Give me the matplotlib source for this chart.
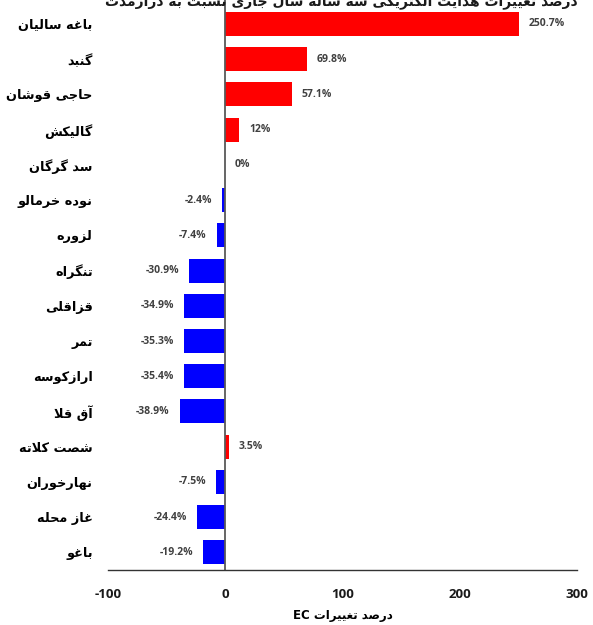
import matplotlib
matplotlib.use("Agg")
import matplotlib.pyplot as plt

stations = ["باغه سالیان", "گنبد", "حاجی قوشان", "گالیکش", "سد گرگان",
            "نوده خرمالو", "لزوره", "تنگراه", "قزاقلی", "تمر", "ارازکوسه",
            "آق قلا", "شصت کلاته", "نهارخوران", "غاز محله", "باغو"]
ec_change = [250.7, 69.8, 57.1, 12, 0, -2.4, -7.4, -30.9, -34.9, -35.3,
             -35.4, -38.9, 3.5, -7.5, -24.4, -19.2]
x_ticks = [-100, 0, 100, 200, 300]
title = "درصد تغییرات هدایت الکتریکی سه ساله سال جاری نسبت به درازمدت"
x_title = "درصد تغییرات"

# matplotlib has no arabic shaping, so map letters to presentation forms
# (isolated, final, initial, medial); None = does not join to the next letter
FORMS = {
    'ا': ('\uFE8D', '\uFE8E', None, None),
    'آ': ('\uFE81', '\uFE82', None, None),
    'ب': ('\uFE8F', '\uFE90', '\uFE91', '\uFE92'),
    'ت': ('\uFE95', '\uFE96', '\uFE97', '\uFE98'),
    'ج': ('\uFE9D', '\uFE9E', '\uFE9F', '\uFEA0'),
    'ح': ('\uFEA1', '\uFEA2', '\uFEA3', '\uFEA4'),
    'خ': ('\uFEA5', '\uFEA6', '\uFEA7', '\uFEA8'),
    'د': ('\uFEA9', '\uFEAA', None, None),
    'ر': ('\uFEAD', '\uFEAE', None, None),
    'ز': ('\uFEAF', '\uFEB0', None, None),
    'س': ('\uFEB1', '\uFEB2', '\uFEB3', '\uFEB4'),
    'ش': ('\uFEB5', '\uFEB6', '\uFEB7', '\uFEB8'),
    'ص': ('\uFEB9', '\uFEBA', '\uFEBB', '\uFEBC'),
    'ط': ('\uFEC1', '\uFEC2', '\uFEC3', '\uFEC4'),
    'ع': ('\uFEC9', '\uFECA', '\uFECB', '\uFECC'),
    'غ': ('\uFECD', '\uFECE', '\uFECF', '\uFED0'),
    'ف': ('\uFED1', '\uFED2', '\uFED3', '\uFED4'),
    'ق': ('\uFED5', '\uFED6', '\uFED7', '\uFED8'),
    'ل': ('\uFEDD', '\uFEDE', '\uFEDF', '\uFEE0'),
    'م': ('\uFEE1', '\uFEE2', '\uFEE3', '\uFEE4'),
    'ن': ('\uFEE5', '\uFEE6', '\uFEE7', '\uFEE8'),
    'ه': ('\uFEE9', '\uFEEA', '\uFEEB', '\uFEEC'),
    'و': ('\uFEED', '\uFEEE', None, None),
    'ک': ('\uFB8E', '\uFB8F', '\uFB90', '\uFB91'),
    'گ': ('\uFB92', '\uFB93', '\uFB94', '\uFB95'),
    'ی': ('\uFBFC', '\uFBFD', '\uFBFE', '\uFBFF'),
    '\uFEFB': ('\uFEFB', '\uFEFC', None, None),  # lam-alef
}


def rtl(text):
    s = text.replace('لا', '\uFEFB')
    out = []
    for i, c in enumerate(s):
        if c not in FORMS:
            out.append(c)
            continue
        prev = s[i - 1] if i > 0 else ''
        nxt = s[i + 1] if i + 1 < len(s) else ''
        iso, fin, ini, med = FORMS[c]
        j_prev = prev in FORMS and FORMS[prev][2] is not None
        j_next = nxt in FORMS and ini is not None
        if j_prev and j_next:
            out.append(med)
        elif j_prev:
            out.append(fin)
        elif j_next:
            out.append(ini)
        else:
            out.append(iso)
    return ''.join(reversed(out))


fig = plt.figure(figsize=(5.93, 6.25), dpi=100)
ax = fig.add_axes([0.182, 0.088, 0.791, 0.912])

pos = list(range(len(stations)))
colors = ['#FF0000' if v > 0 else '#0000FF' for v in ec_change]
ax.barh(pos, ec_change, height=0.68, color=colors)

for p, v in zip(pos, ec_change):
    if v >= 0:
        ax.annotate(f"{v:g}%", (v, p), xytext=(7, 0), textcoords='offset points',
                    ha='left', va='center', fontsize=7.5, fontweight='bold',
                    color='#404040', family='Open Sans')
    else:
        ax.annotate(f"{v:g}%", (v, p), xytext=(-7, 0), textcoords='offset points',
                    ha='right', va='center', fontsize=7.5, fontweight='bold',
                    color='#404040', family='Open Sans')

ax.set_xlim(-100, 300)
ax.set_ylim(15.5, -0.68)
ax.set_xticks(x_ticks)
ax.set_xticklabels([str(t) for t in x_ticks], fontsize=9.5, fontweight='bold',
                   family='Open Sans', color='#1a1a1a')
ax.set_yticks(pos)
ax.set_yticklabels([rtl(s) for s in stations], fontsize=9.3, fontweight='bold',
                   family='DejaVu Sans')
ax.tick_params(axis='both', length=0)
ax.tick_params(axis='x', pad=13)
ax.tick_params(axis='y', pad=11)

for side in ['top', 'right', 'left']:
    ax.spines[side].set_visible(False)
ax.spines['bottom'].set_color('#333333')
ax.spines['bottom'].set_linewidth(1.0)
ax.axvline(0, color='#595959', lw=1.3)

ax.set_xlabel("EC " + rtl(x_title), fontsize=8.5, fontweight='bold',
              family='DejaVu Sans', labelpad=6)

fig.text(0.575, 0.991, rtl(title), ha='center', va='baseline', fontsize=10,
         fontweight='bold', family='DejaVu Sans', color='#1a1a1a')

fig.savefig("out.png", dpi=100)
